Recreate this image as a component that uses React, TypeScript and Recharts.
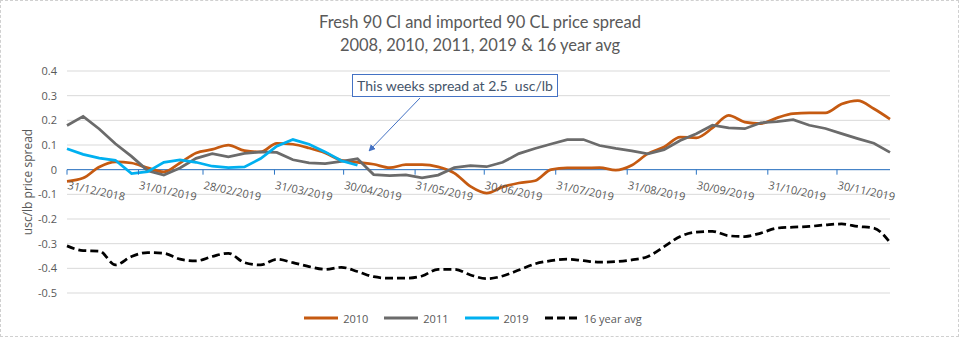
import React from "react"
import { CartesianGrid, Line, LineChart, ReferenceLine, XAxis, YAxis } from "recharts"

// weekly points, day offsets from 31/12/2018
const weekDays = Array.from({ length: 52 }, (_, i) => i * 7)

const monthDays = [0, 31, 59, 90, 120, 151, 181, 212, 243, 273, 304, 334]
const monthLabels = [
  "31/12/2018", "31/01/2019", "28/02/2019", "31/03/2019", "30/04/2019", "31/05/2019",
  "30/06/2019", "31/07/2019", "31/08/2019", "30/09/2019", "31/10/2019", "30/11/2019",
]

const yTicks = [0.4, 0.3, 0.2, 0.1, 0, -0.1, -0.2, -0.3, -0.4, -0.5]

const spread2010 = [
  -0.047, -0.034, 0.011, 0.032, 0.027, 0.007, -0.009, 0.027, 0.068, 0.082, 0.1, 0.077, 0.072,
  0.107, 0.103, 0.088, 0.068, 0.038, 0.03, 0.022, 0.008, 0.02, 0.02, 0.011, -0.014, -0.068,
  -0.095, -0.07, -0.054, -0.045, 0.0, 0.007, 0.007, 0.008, -0.002, 0.018, 0.065, 0.092, 0.132,
  0.129, 0.169, 0.22, 0.193, 0.187, 0.21, 0.227, 0.23, 0.23, 0.266, 0.28, 0.247, 0.205,
]
const spread2011 = [
  0.179, 0.216, 0.165, 0.105, 0.054, -0.004, -0.022, 0.007, 0.046, 0.065, 0.052, 0.066, 0.072,
  0.07, 0.04, 0.028, 0.025, 0.034, 0.044, -0.02, -0.024, -0.021, -0.033, -0.022, 0.008, 0.016,
  0.012, 0.03, 0.065, 0.086, 0.104, 0.122, 0.122, 0.098, 0.086, 0.076, 0.064, 0.081, 0.118,
  0.146, 0.18, 0.169, 0.166, 0.19, 0.195, 0.203, 0.18, 0.167, 0.146, 0.126, 0.107, 0.07,
]
const spread2019 = [
  0.085, 0.062, 0.047, 0.038, -0.016, -0.008, 0.03, 0.04, 0.03, 0.014, 0.008, 0.011, 0.045,
  0.095, 0.122, 0.103, 0.072, 0.036, 0.018,
]
const avg16 = [
  -0.309, -0.328, -0.33, -0.386, -0.352, -0.336, -0.339, -0.363, -0.37, -0.352, -0.339, -0.377,
  -0.386, -0.363, -0.377, -0.393, -0.404, -0.396, -0.413, -0.434, -0.44, -0.44, -0.431, -0.404,
  -0.404, -0.427, -0.442, -0.431, -0.407, -0.382, -0.369, -0.363, -0.369, -0.375, -0.373, -0.366,
  -0.352, -0.312, -0.271, -0.253, -0.25, -0.268, -0.271, -0.257, -0.237, -0.233, -0.23, -0.224,
  -0.22, -0.23, -0.237, -0.295,
]

const series = [
  { key: "y2010", name: "2010", color: "#c55a11", dash: undefined, curve: "monotone" },
  { key: "y2011", name: "2011", color: "#6b6b6b", dash: undefined, curve: "linear" },
  { key: "y2019", name: "2019", color: "#00b0f0", dash: undefined, curve: "linear" },
  { key: "avg", name: "16 year avg", color: "#000000", dash: "8 4", curve: "monotone" },
] as const

const data = weekDays.map((day, i) => ({
  day,
  y2010: spread2010[i],
  y2011: spread2011[i],
  y2019: spread2019[i],
  avg: avg16[i],
}))

const W = 960
const H = 339
const PLOT_TOP = 71
const PLOT_BOTTOM = 293
const Y_MIN = -0.5
const Y_MAX = 0.4
const ZERO_Y = PLOT_TOP + (Y_MAX / (Y_MAX - Y_MIN)) * (PLOT_BOTTOM - PLOT_TOP)
const AXIS_BLUE = "#2a74c4"
const TEXT = "#595959"
const FONT = "'Open Sans', sans-serif"

function DateTick(props: any) {
  const { x, payload } = props
  const label = monthLabels[monthDays.indexOf(payload.value)]
  return (
    <g>
      <line x1={x} x2={x} y1={ZERO_Y} y2={ZERO_Y + 5} stroke={AXIS_BLUE} />
      <text
        transform={`translate(${x},${ZERO_Y + 19}) rotate(12)`}
        fontSize={11}
        fill={TEXT}
        fontFamily={FONT}
        textAnchor="start"
      >
        {label}
      </text>
    </g>
  )
}

function LegendRow() {
  return (
    <div
      style={{
        position: "absolute",
        top: 310,
        left: 0,
        width: W,
        display: "flex",
        justifyContent: "center",
        fontFamily: FONT,
        fontSize: 11,
        color: TEXT,
      }}
    >
      {series.map((s) => (
        <div key={s.key} style={{ display: "flex", alignItems: "center", marginRight: 15 }}>
          <svg width={36} height={16}>
            <line
              x1={1}
              x2={35}
              y1={8}
              y2={8}
              stroke={s.color}
              strokeWidth={3}
              strokeDasharray={s.dash ? "8 4" : undefined}
            />
          </svg>
          <span style={{ marginLeft: 4 }}>{s.name}</span>
        </div>
      ))}
    </div>
  )
}

export default function App() {
  return (
    <div style={{ position: "absolute", left: 0, top: 0, width: W, height: H, background: "#fff" }}>
      <div
        style={{
          position: "absolute",
          left: 0,
          top: 0,
          width: W - 1,
          height: H - 2,
          border: "1px dashed #d0d0d0",
          boxSizing: "border-box",
        }}
      />
      <div
        style={{
          position: "absolute",
          top: 11,
          left: 0,
          width: W,
          textAlign: "center",
          fontFamily: "Lato, sans-serif",
          fontSize: 16.5,
          lineHeight: "23px",
          color: TEXT,
        }}
      >
        <div>Fresh 90 Cl and imported 90 CL price spread</div>
        <div>2008, 2010, 2011, 2019 &amp; 16 year avg</div>
      </div>
      <LineChart width={W} height={H} data={data} margin={{ top: PLOT_TOP, right: 70, bottom: H - PLOT_BOTTOM - 1, left: 0 }}>
        <CartesianGrid vertical={false} stroke="#d9d9d9" />
        <XAxis
          dataKey="day"
          type="number"
          domain={[0, 357]}
          ticks={monthDays}
          interval={0}
          height={1}
          axisLine={false}
          tickLine={false}
          tick={<DateTick />}
        />
        <YAxis
          width={67}
          domain={[Y_MIN, Y_MAX]}
          ticks={yTicks}
          axisLine={false}
          tickLine={false}
          tickMargin={4}
          tick={{ fontSize: 11, fill: TEXT, fontFamily: FONT }}
          tickFormatter={(v: number) => (v === 0 ? "0" : v.toFixed(1))}
          label={{
            content: (p: any) => {
              const vb = p.viewBox
              const cx = 27
              const cy = vb.y + vb.height / 2
              return (
                <text
                  x={cx}
                  y={cy}
                  transform={`rotate(-90 ${cx} ${cy})`}
                  textAnchor="middle"
                  dominantBaseline="central"
                  fontSize={12}
                  fill={TEXT}
                  fontFamily={FONT}
                >
                  usc/lb price spread
                </text>
              )
            },
          }}
        />
        <ReferenceLine y={0} stroke={AXIS_BLUE} strokeWidth={1} />
        {series.map((s) => (
          <Line
            key={s.key}
            dataKey={s.key}
            name={s.name}
            type={s.curve}
            stroke={s.color}
            strokeWidth={2.75}
            strokeDasharray={s.dash}
            dot={false}
            activeDot={false}
            isAnimationActive={false}
          />
        ))}
      </LineChart>
      <div
        style={{
          position: "absolute",
          left: 352,
          top: 74,
          width: 206,
          height: 23,
          border: "1px solid #4472c4",
          boxSizing: "border-box",
          background: "#fff",
          fontFamily: "Lato, sans-serif",
          fontSize: 14,
          lineHeight: "21px",
          color: "#44546a",
          textAlign: "center",
          whiteSpace: "pre",
        }}
      >
        This weeks spread at 2.5  usc/lb
      </div>
      <svg width={W} height={H} style={{ position: "absolute", left: 0, top: 0, pointerEvents: "none" }}>
        <defs>
          <marker id="arr" viewBox="0 0 10 10" refX="9" refY="5" markerWidth="7" markerHeight="7" orient="auto">
            <path d="M0,0 L10,5 L0,10 z" fill="#4472c4" />
          </marker>
        </defs>
        <line x1={420} y1={98} x2={369} y2={151} stroke="#4472c4" strokeWidth={1} markerEnd="url(#arr)" />
      </svg>
      <LegendRow />
    </div>
  )
}
